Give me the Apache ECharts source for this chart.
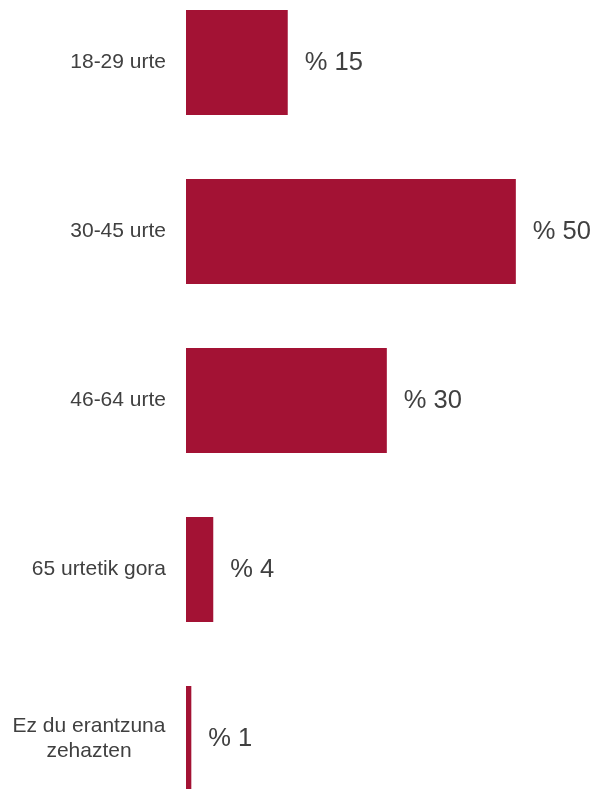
<!DOCTYPE html>
<html>
<head>
<meta charset="utf-8">
<script src="https://cdn.jsdelivr.net/npm/echarts@6/dist/echarts.min.js"></script>
<style>html,body{margin:0;padding:0;background:#fff}#c{width:596px;height:789px}</style>
</head>
<body>
<div id="c"></div>
<script>
var categories = ['18-29 urte', '30-45 urte', '46-64 urte', '65 urtetik gora', 'Ez du erantzuna\nzehazten'];
var values = [15.3, 49.6, 30.2, 4.1, 0.8];

var chart = echarts.init(document.getElementById('c'));
chart.setOption({
  animation: false,
  backgroundColor: '#ffffff',
  grid: { left: 186, top: -22, height: 845, width: 399, containLabel: false, outerBoundsMode: 'none' },
  xAxis: { type: 'value', min: 0, max: 60, show: false },
  yAxis: {
    type: 'category', data: categories, inverse: true,
    axisLine: { show: false }, axisTick: { show: false },
    axisLabel: {
      margin: 20, fontSize: 21, color: '#404040', fontFamily: 'Liberation Sans, Arial, sans-serif',
      lineHeight: 25,
      formatter: function (v) {
        if (v.indexOf('\n') >= 0) {
          return v.split('\n').map(function (s) { return '{c|' + s + '}'; }).join('\n');
        }
        return v;
      },
      rich: { c: { width: 154, align: 'center', fontSize: 21, color: '#404040', lineHeight: 25, fontFamily: 'Liberation Sans, Arial, sans-serif' } }
    }
  },
  series: [{
    type: 'bar', data: values, barWidth: 105,
    itemStyle: { color: '#a31234' },
    label: {
      show: true, position: 'right', distance: 17,
      fontSize: 25.5, color: '#404040', fontFamily: 'Liberation Sans, Arial, sans-serif',
      formatter: function (p) { return '% ' + Math.round(p.value); }
    }
  }]
});
</script>
</body>
</html>
